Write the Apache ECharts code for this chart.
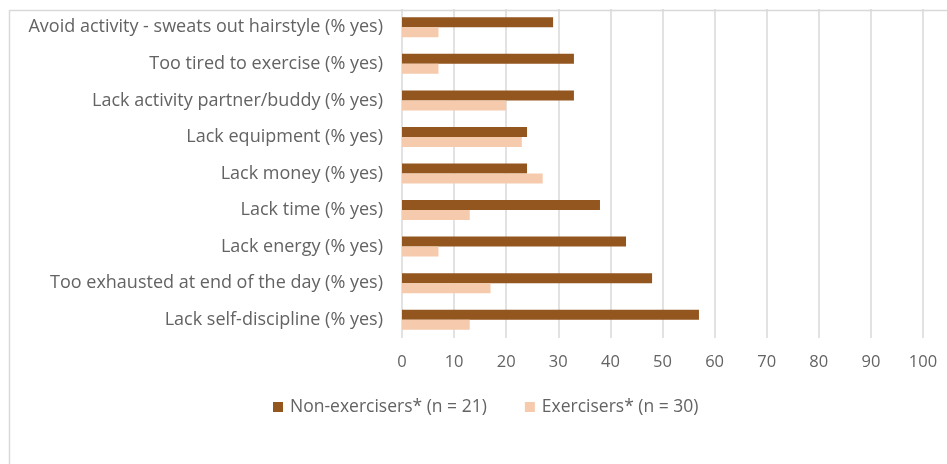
<!DOCTYPE html>
<html>
<head>
<meta charset="utf-8">
<script src="https://cdn.jsdelivr.net/npm/echarts@6/dist/echarts.min.js"></script>
<style>html,body{margin:0;padding:0;background:#fff}#c{width:947px;height:464px}</style>
</head>
<body>
<div id="c"></div>
<script>
const categories = [
  "Avoid activity - sweats out hairstyle (% yes)",
  "Too tired to exercise (% yes)",
  "Lack activity partner/buddy (% yes)",
  "Lack equipment (% yes)",
  "Lack money (% yes)",
  "Lack time (% yes)",
  "Lack energy (% yes)",
  "Too exhausted at end of the day (% yes)",
  "Lack self-discipline (% yes)"
];
const nonExercisers = [29, 33, 33, 24, 24, 38, 43, 48, 57];
const exercisers = [7, 7, 20, 23, 27, 13, 7, 17, 13];
const seriesNames = ["Non-exercisers* (n = 21)", "Exercisers* (n = 30)"];
const xTicks = [0, 10, 20, 30, 40, 50, 60, 70, 80, 90, 100];

const chart = echarts.init(document.getElementById('c'));
const font = '"Open Sans", Lato, sans-serif';
chart.setOption({
  animation: false,
  textStyle: { fontFamily: font },
  graphic: [{
    type: 'rect', left: 7, top: 8,
    shape: { width: 950, height: 455 },
    style: { fill: 'none', stroke: '#d9d9d9', lineWidth: 1.5 },
    silent: true
  }],
  grid: { left: 402, right: 24, top: 9, bottom: 126, containLabel: false },
  legend: {
    bottom: 43, left: 268,
    itemWidth: 10, itemHeight: 10, itemGap: 38,
    icon: 'rect',
    textStyle: { color: '#636363', fontSize: 17.5, fontFamily: font, padding: [0, 0, 0, 2] },
    data: seriesNames
  },
  xAxis: {
    type: 'value', min: xTicks[0], max: xTicks[xTicks.length - 1], interval: 10,
    axisLine: { show: false }, axisTick: { show: false },
    splitLine: { show: true, lineStyle: { color: '#d9d9d9', width: 1.5 } },
    axisLabel: { color: '#636363', fontSize: 16.5, margin: 16, fontFamily: font }
  },
  yAxis: {
    type: 'category', data: categories, inverse: true,
    axisLine: { show: false }, axisTick: { show: false },
    axisLabel: { color: '#636363', fontSize: 18, margin: 19, fontFamily: font }
  },
  series: [
    { name: seriesNames[0], type: 'bar', data: nonExercisers, barWidth: 10, barGap: '0%',
      itemStyle: { color: '#94561F' } },
    { name: seriesNames[1], type: 'bar', data: exercisers, barWidth: 10,
      itemStyle: { color: '#F6CAAC' } }
  ]
});
</script>
</body>
</html>
